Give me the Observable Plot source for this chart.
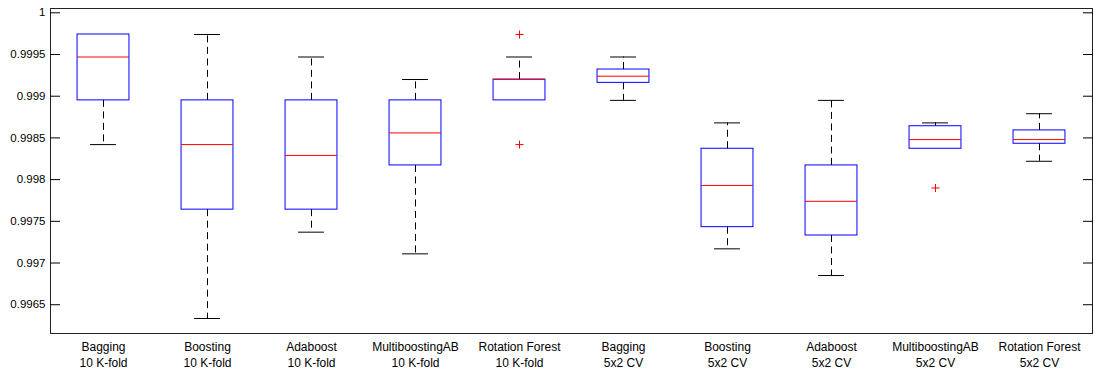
<!DOCTYPE html>
<html>
<head>
<meta charset="utf-8">
<script src="https://cdn.jsdelivr.net/npm/d3@7"></script>
<script src="https://cdn.jsdelivr.net/npm/@observablehq/plot@0.6"></script>
<style>
  html, body { margin: 0; padding: 0; background: #fff; }
</style>
</head>
<body>
<div id="chart"></div>
<script>
const methods = ["Bagging", "Boosting", "Adaboost", "MultiboostingAB", "Rotation Forest",
                 "Bagging", "Boosting", "Adaboost", "MultiboostingAB", "Rotation Forest"];
const validation = ["10 K-fold", "10 K-fold", "10 K-fold", "10 K-fold", "10 K-fold",
                    "5x2 CV", "5x2 CV", "5x2 CV", "5x2 CV", "5x2 CV"];
const lowerWhisker = [0.99842, 0.996335, 0.99737, 0.99711, 0.99895, 0.99895, 0.99717, 0.99685, 0.99837, 0.99822];
const q1           = [0.99895, 0.99764, 0.99764, 0.99817, 0.99895, 0.99916, 0.99743, 0.99733, 0.99837, 0.99843];
const median       = [0.99947, 0.99842, 0.99829, 0.99856, 0.99920, 0.99924, 0.99793, 0.99774, 0.99848, 0.99848];
const q3           = [0.99974, 0.99895, 0.99895, 0.99895, 0.99920, 0.99932, 0.99837, 0.99817, 0.99864, 0.99859];
const upperWhisker = [0.99974, 0.99974, 0.99947, 0.99920, 0.99947, 0.99947, 0.99868, 0.99895, 0.99868, 0.99879];
const outlierGroup = [4, 4, 8];
const outlierValue = [0.99974, 0.99842, 0.99790];
const yTicks = [0.9965, 0.997, 0.9975, 0.998, 0.9985, 0.999, 0.9995, 1];

const labels = methods.map((m, i) => m + "\n" + validation[i]);
const boxes = labels.map((label, i) => ({
  label, lw: lowerWhisker[i], q1: q1[i], med: median[i], q3: q3[i], uw: upperWhisker[i]
}));
const upperCaps = boxes.filter(d => d.uw > d.q3);
const lowerCaps = boxes.filter(d => d.lw < d.q1);
const outliers = outlierGroup.map((g, i) => ({label: labels[g], value: outlierValue[i]}));

const W = 1094, H = 371;
const mL = 50, mR = 2, mT = 8, mB = 38;
const band = (W - mL - mR) / labels.length;
const boxInset = band / 4;
const capInset = (band - band / 4) / 2;
const dash = "7,4.5";

const chart = Plot.plot({
  width: W,
  height: H,
  marginLeft: mL,
  marginRight: mR,
  marginTop: mT,
  marginBottom: mB,
  style: {fontFamily: "'Liberation Sans', Arial, sans-serif", fontSize: "11.5px", background: "#fff", color: "#000"},
  x: {domain: labels, padding: 0},
  y: {domain: [0.996155, 1.0000516]},
  marks: [
    Plot.ruleX(upperCaps, {x: "label", y1: "q3", y2: "uw", stroke: "#000", strokeDasharray: dash}),
    Plot.ruleX(lowerCaps, {x: "label", y1: "q1", y2: "lw", stroke: "#000", strokeDasharray: dash}),
    Plot.tickY(upperCaps, {x: "label", y: "uw", stroke: "#000", insetLeft: capInset, insetRight: capInset}),
    Plot.tickY(lowerCaps, {x: "label", y: "lw", stroke: "#000", insetLeft: capInset, insetRight: capInset}),
    Plot.barY(boxes, {x: "label", y1: "q1", y2: "q3", fill: "none", stroke: "#0000ff", insetLeft: boxInset, insetRight: boxInset}),
    Plot.tickY(boxes, {x: "label", y: "med", stroke: "#ff0000", insetLeft: boxInset, insetRight: boxInset}),
    Plot.dot(outliers, {x: "label", y: "value", symbol: "plus", r: 2.7, stroke: "#ff0000", strokeWidth: 1}),
    Plot.frame({stroke: "#222"}),
    Plot.axisY({anchor: "left", ticks: yTicks, tickSize: 0, tickPadding: 5, tickFormat: d => String(d), label: null, fill: "#000"}),
    Plot.axisY({anchor: "left", ticks: yTicks, tickSize: 10, insetLeft: 10, tickFormat: () => "", label: null, stroke: "#000"}),
    Plot.axisY({anchor: "right", ticks: yTicks, tickSize: 10, insetRight: 10, tickFormat: () => "", label: null, stroke: "#000"}),
    Plot.axisX({anchor: "bottom", tickSize: 0, tickPadding: 6.5, lineHeight: 1.33, fontSize: 12, label: null, fill: "#000"})
  ]
});
document.getElementById("chart").appendChild(chart);
</script>
</body>
</html>
